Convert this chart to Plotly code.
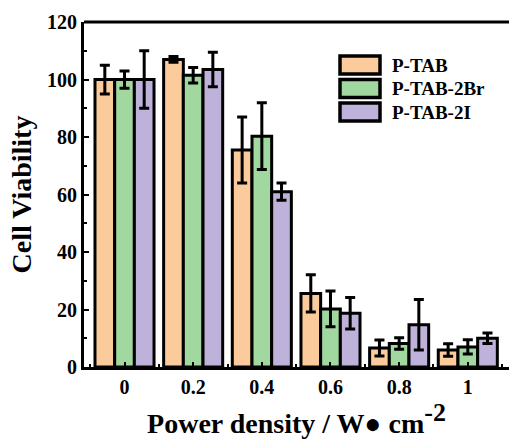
import plotly.graph_objects as go

categories = ["0", "0.2", "0.4", "0.6", "0.8", "1"]
series_names = ["P-TAB", "P-TAB-2Br", "P-TAB-2I"]
p_tab = [100, 107, 75.5, 25.6, 6.6, 5.9]
p_tab_err = [5, 1, 11.5, 6.5, 2.8, 2.2]
p_tab_2br = [100, 101.5, 80.3, 20.2, 8.2, 7.0]
p_tab_2br_err = [3, 2.7, 11.6, 6.2, 2.0, 2.5]
p_tab_2i = [100, 103.5, 61, 18.7, 14.7, 10.0]
p_tab_2i_err = [10, 6, 3, 5.5, 8.8, 1.8]
colors = ["#FCCB9C", "#A0D8A0", "#BFB2DA"]
y_ticks = [0, 20, 40, 60, 80, 100, 120]

values = [p_tab, p_tab_2br, p_tab_2i]
errors = [p_tab_err, p_tab_2br_err, p_tab_2i_err]
xpos = list(range(len(categories)))

FONT = "Liberation Serif"
fig = go.Figure()
for name, v, e, c in zip(series_names, values, errors, colors):
    fig.add_trace(go.Bar(
        x=xpos, y=v, name=name,
        marker=dict(color=c, line=dict(color="black", width=3)),
        error_y=dict(type="data", array=e, visible=True, color="black", thickness=3, width=5),
        showlegend=False,
    ))

# custom legend (wide swatches like the original)
leg_x0, leg_x1 = 340, 380
leg_y = [65, 88.5, 112]
W, H = 509, 442
ml, mr, mt, mb = 84, 0, 22, 75
pw, ph = W - ml - mr, H - mt - mb
for i, (name, c) in enumerate(zip(series_names, colors)):
    cy = leg_y[i]
    fig.add_shape(type="rect", xref="paper", yref="paper",
                  x0=(leg_x0 - ml) / pw, x1=(leg_x1 - ml) / pw,
                  y0=1 - (cy - 9 - mt) / ph, y1=1 - (cy + 9 - mt) / ph,
                  fillcolor=c, line=dict(color="black", width=3.5))
    fig.add_annotation(xref="paper", yref="paper", x=(390 - ml) / pw, y=1 - (cy - mt) / ph,
                       text=name, showarrow=False, xanchor="left", yanchor="middle",
                       font=dict(family=FONT, size=19, color="black", weight="bold"))

# top frame line
fig.add_shape(type="line", xref="paper", yref="paper", x0=0, x1=1, y0=1, y1=1,
              line=dict(color="black", width=3))

fig.update_layout(
    width=W, height=H,
    margin=dict(l=ml, r=mr, t=mt, b=mb),
    barmode="group", bargap=0.14, bargroupgap=0,
    plot_bgcolor="white", paper_bgcolor="white",
    font=dict(family=FONT, color="black"),
)
fig.update_xaxes(
    range=[-0.59, 5.6], tickvals=xpos, ticktext=categories,
    showline=True, linecolor="black", linewidth=3,
    ticks="inside", ticklen=5, tickwidth=2, tickcolor="black",
    minor=dict(ticks="inside", tick0=0.5, dtick=1, ticklen=3, tickwidth=2, tickcolor="black"),
    tickfont=dict(family=FONT, size=20, color="black", weight="bold"),
    title=dict(text="Power density / W\u25cf cm"
                    "<sup><span style='font-size:26px'>-2</span></sup>", standoff=16,
               font=dict(family=FONT, size=28, color="black", weight="bold")),
    showgrid=False, zeroline=False,
)
fig.update_yaxes(
    range=[0, 120], tickvals=y_ticks,
    showline=True, linecolor="black", linewidth=3,
    ticks="inside", ticklen=5, tickwidth=2, tickcolor="black",
    minor=dict(ticks="inside", dtick=10, ticklen=3, tickwidth=2, tickcolor="black"),
    tickfont=dict(family=FONT, size=20, color="black", weight="bold"),
    title=dict(text="Cell Viability", standoff=8,
               font=dict(family=FONT, size=28, color="black", weight="bold")),
    showgrid=False, zeroline=False,
)
fig.write_html("out.html")
